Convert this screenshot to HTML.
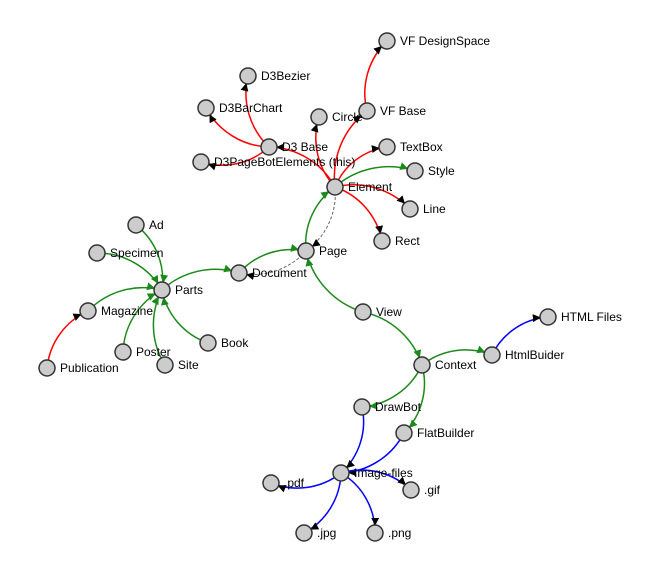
<!DOCTYPE html>
<html><head><meta charset="utf-8"><style>
html,body{margin:0;padding:0;background:#fff;}
svg{display:block;}
text{font-family:"Liberation Sans",Arial,sans-serif;font-size:12px;fill:#000;}
circle{fill:#ccc;stroke:#333;stroke-width:1.5;}
</style></head><body>
<svg id="s" width="655" height="576" viewBox="0 0 655 576">
<defs>
<marker id="mk" viewBox="0 -5 10 10" refX="19" refY="0" markerWidth="8" markerHeight="8" markerUnits="userSpaceOnUse" orient="auto"><path d="M0,-5L10,0L0,5" fill="#000"/></marker>
<marker id="mg" viewBox="0 -5 10 10" refX="19" refY="0" markerWidth="8" markerHeight="8" markerUnits="userSpaceOnUse" orient="auto"><path d="M0,-5L10,0L0,5" fill="#1a8a1a"/></marker>
</defs>
<g id="edges"></g>
<g id="nodes">
<circle cx="387" cy="41" r="8"/><text x="400" y="45">VF DesignSpace</text>
<circle cx="248" cy="76" r="8"/><text x="261" y="80">D3Bezier</text>
<circle cx="206" cy="108" r="8"/><text x="219" y="112">D3BarChart</text>
<circle cx="367" cy="111" r="8"/><text x="380" y="115">VF Base</text>
<circle cx="319" cy="117" r="8"/><text x="332" y="121">Circle</text>
<circle cx="269" cy="147" r="8"/><text x="282" y="151">D3 Base</text>
<circle cx="201" cy="162" r="8"/><text x="214" y="166">D3PageBotElements (this)</text>
<circle cx="387" cy="147" r="8"/><text x="400" y="151">TextBox</text>
<circle cx="415" cy="171" r="8"/><text x="428" y="175">Style</text>
<circle cx="335" cy="187" r="8"/><text x="348" y="191">Element</text>
<circle cx="410" cy="209" r="8"/><text x="423" y="213">Line</text>
<circle cx="382" cy="241" r="8"/><text x="395" y="245">Rect</text>
<circle cx="306" cy="251" r="8"/><text x="319" y="255">Page</text>
<circle cx="136" cy="225" r="8"/><text x="149" y="229">Ad</text>
<circle cx="97" cy="253" r="8"/><text x="110" y="257">Specimen</text>
<circle cx="162" cy="290" r="8"/><text x="175" y="294">Parts</text>
<circle cx="239" cy="273" r="8"/><text x="252" y="277">Document</text>
<circle cx="88" cy="311" r="8"/><text x="101" y="315">Magazine</text>
<circle cx="123" cy="352" r="8"/><text x="136" y="356">Poster</text>
<circle cx="165" cy="365" r="8"/><text x="178" y="369">Site</text>
<circle cx="208" cy="343" r="8"/><text x="221" y="347">Book</text>
<circle cx="47" cy="368" r="8"/><text x="60" y="372">Publication</text>
<circle cx="363" cy="312" r="8"/><text x="376" y="316">View</text>
<circle cx="548" cy="317" r="8"/><text x="561" y="321">HTML Files</text>
<circle cx="492" cy="355" r="8"/><text x="505" y="359">HtmlBuider</text>
<circle cx="422" cy="365" r="8"/><text x="435" y="369">Context</text>
<circle cx="362" cy="407" r="8"/><text x="375" y="411">DrawBot</text>
<circle cx="404" cy="433" r="8"/><text x="417" y="437">FlatBuilder</text>
<circle cx="341" cy="473" r="8"/><text x="354" y="477">Image-files</text>
<circle cx="271" cy="483" r="8"/><text x="284" y="487">.pdf</text>
<circle cx="411" cy="490" r="8"/><text x="424" y="494">.gif</text>
<circle cx="304" cy="533" r="8"/><text x="317" y="537">.jpg</text>
<circle cx="375" cy="533" r="8"/><text x="388" y="537">.png</text>
</g>
</svg>
<script>
var P={vfds:[387,41],bez:[248,76],bar:[206,108],vfb:[367,111],cir:[319,117],d3b:[269,147],pbe:[201,162],tb:[387,147],sty:[415,171],el:[335,187],line:[410,209],rect:[382,241],page:[306,251],ad:[136,225],spec:[97,253],parts:[162,290],doc:[239,273],mag:[88,311],post:[123,352],site:[165,365],book:[208,343],pub:[47,368],view:[363,312],html:[548,317],hb:[492,355],ctx:[422,365],db:[362,407],fb:[404,433],img:[341,473],pdf:[271,483],gif:[411,490],jpg:[304,533],png:[375,533]};
var R='#f00',G='#1a8a1a',B='#00f',D='#666';
var E=[['pub','mag',R],['d3b','bez',R],['d3b','bar',R],['d3b','pbe',R],['el','d3b',R,0],['el','cir',R],['el','vfb',R],['vfb','vfds',R],['el','tb',R],['el','line',R],['el','rect',R],['el','sty',G],
['page','el',G],['parts','doc',G],['doc','page',G],['ad','parts',G],['spec','parts',G],['mag','parts',G],['post','parts',G],['site','parts',G],['book','parts',G],['view','page',G],['view','ctx',G],['ctx','hb',G],['ctx','db',G],['ctx','fb',G],
['el','page',D],['page','doc',D],
['hb','html',B],['db','img',B],['fb','img',B],['img','pdf',B],['img','gif',B],['img','jpg',B],['img','png',B]];
var g=document.getElementById('edges'),ns='http://www.w3.org/2000/svg';
E.forEach(function(e){var s=P[e[0]],t=P[e[1]],dx=t[0]-s[0],dy=t[1]-s[1],dr=Math.sqrt(dx*dx+dy*dy);var sw=e.length>3?e[3]:1;
var p=document.createElementNS(ns,'path');p.setAttribute('d','M'+s[0]+','+s[1]+'A'+dr+','+dr+' 0 0,'+sw+' '+t[0]+','+t[1]);
p.setAttribute('fill','none');p.setAttribute('stroke',e[2]);p.setAttribute('stroke-width',e[2]==D?1:1.5);
if(e[2]==D)p.setAttribute('stroke-dasharray','3,2');
p.setAttribute('marker-end',e[2]==G?'url(#mg)':'url(#mk)');g.appendChild(p);});
</script>
</body></html>
